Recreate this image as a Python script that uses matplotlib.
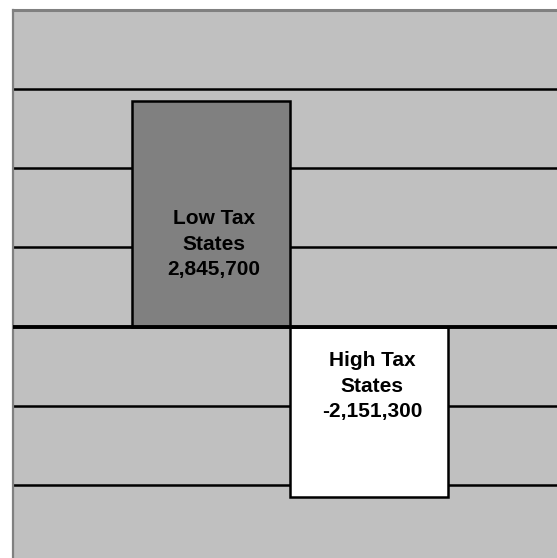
import matplotlib.pyplot as plt

# dati del grafico
categories = ['Low Tax\nStates', 'High Tax\nStates']
values = [2845700, -2151300]
label_pos = [1.04e6, -0.75e6]
bar_colors = ['#808080', '#ffffff']
grid_levels = [-2e6, -1e6, 1e6, 2e6, 3e6]

plt.rcParams['font.family'] = ['Liberation Sans', 'DejaVu Sans']

fig = plt.figure(figsize=(5.57, 5.58), dpi=100)
# area del grafico tagliata a destra e in basso come nell'originale
ax = fig.add_axes([12.5 / 557, -6.5 / 558, 553 / 557, 555 / 558])
ax.set_facecolor('#c0c0c0')

x = list(range(len(categories)))
ax.bar(x, values, width=1.0, color=bar_colors, edgecolor='black', linewidth=1.8, zorder=3)

for lvl in grid_levels:
    ax.axhline(lvl, color='black', linewidth=1.8, zorder=1)
ax.axhline(0, color='black', linewidth=2.8, zorder=4)

for xi, cat, val, yp in zip(x, categories, values, label_pos):
    ax.text(xi + 0.02, yp, f"{cat}\n{val:,}", ha='center', va='center',
            fontsize=15, fontweight='bold', linespacing=1.42, zorder=5)

ax.set_xlim(-1.255, 2.245)
ax.set_ylim(-3e6, 4e6)
ax.set_xticks([])
ax.set_yticks([])
for side in ['right', 'bottom']:
    ax.spines[side].set_visible(False)
ax.spines['left'].set_color('#808080')
ax.spines['left'].set_linewidth(1.6)
ax.spines['top'].set_color('#808080')
ax.spines['top'].set_linewidth(2.2)

fig.savefig('out.png', dpi=100)
